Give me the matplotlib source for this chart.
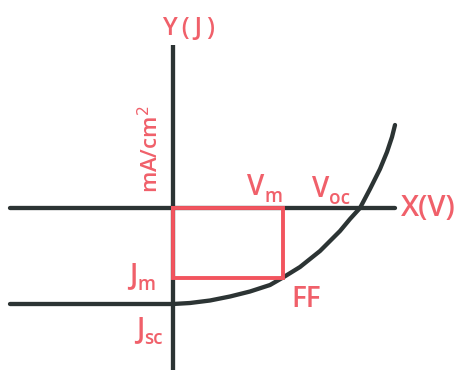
import matplotlib
matplotlib.use("Agg")
import matplotlib.pyplot as plt
import numpy as np

# J-V characteristic of a solar cell (arbitrary units, origin at V=0, J=0)
v_curve = [0.00, 0.17, 0.37, 0.57, 0.77, 0.97, 1.10, 1.27, 1.47, 1.67, 1.77, 1.87, 1.97, 2.07, 2.14, 2.19, 2.22]
j_curve = [-0.96, -0.95, -0.925, -0.885, -0.835, -0.77, -0.695, -0.59, -0.43, -0.23, -0.11, 0.00, 0.19, 0.39, 0.56, 0.71, 0.83]

v_m, j_m = 1.10, -0.695      # maximum power point
v_oc = 1.87                  # open circuit voltage
j_sc = -0.96                 # short circuit current
axis_min_v, axis_max_v = -1.63, 2.22
axis_min_j, axis_max_j = -1.62, 1.63

dark = "#2c3434"
red = "#f2545e"
txt = "#f0606a"

plt.rcParams["font.family"] = ["Open Sans", "DejaVu Sans"]

fig = plt.figure(figsize=(4.64, 3.70), dpi=100)
ax = fig.add_axes([0, 0, 1, 1])
ax.set_xlim(-1.73, 2.91)
ax.set_ylim(-1.62, 2.08)
ax.axis("off")

lw = 3.1
# axes
ax.plot([axis_min_v, axis_max_v], [0, 0], color=dark, lw=lw, solid_capstyle="round")
ax.plot([0, 0], [axis_min_j, axis_max_j], color=dark, lw=lw, solid_capstyle="butt")
# Jsc level line and the curve
ax.plot([axis_min_v, 0], [j_sc, j_sc], color=dark, lw=lw, solid_capstyle="round")
ax.plot(v_curve, j_curve, color=dark, lw=lw, solid_capstyle="round")

# max power rectangle
ax.plot([0, v_m, v_m, 0, 0], [0, 0, j_m, j_m, 0], color=red, lw=2.8, zorder=5,
        solid_joinstyle="miter")


def label(x, y, big, small="", size=20, ha="left"):
    t = ax.text(x, y, big, color=txt, fontsize=size, ha=ha, va="baseline",
                fontweight="semibold")
    if small:
        ax.annotate(small, xy=(1, 0), xycoords=t, color=txt,
                    fontsize=size * 0.68, ha="left", va="baseline",
                    fontweight="semibold")
    return t


label(-0.11, 1.73, "Y\u2009(\u2009J\u2009)", size=18)
label(2.28, -0.08, "X(V)", size=21)
label(0.74, 0.13, "V", "m")
label(1.39, 0.11, "V", "oc")
label(-0.44, -0.75, "J", "m")
label(-0.37, -1.29, "J", "sc")
label(1.18, -0.99, "FF", size=20)
ax.text(-0.22, 0.59, "mA/cm$^2$", color=txt, fontsize=16, rotation=90,
        ha="center", va="center", fontweight="semibold")

fig.savefig("out.png", dpi=100)
